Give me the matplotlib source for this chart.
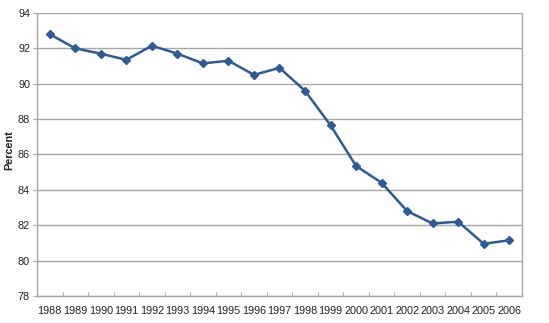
import matplotlib

matplotlib.use("Agg")
import matplotlib.pyplot as plt
import numpy as np

years = [str(y) for y in range(1988, 2007)]
percent = [92.8, 92.0, 91.7, 91.35, 92.15, 91.7, 91.15, 91.3, 90.5, 90.9,
           89.6, 87.65, 85.35, 84.4, 82.8, 82.1, 82.2, 80.95, 81.15]

LINE = "#2c5b98"
GRID = "#a6a6a6"

plt.rcParams["font.family"] = ["Liberation Sans", "DejaVu Sans"]

fig = plt.figure(figsize=(5.49, 3.23), dpi=100)
ax = fig.add_axes([0.0674, 0.0836, 0.8834, 0.8762])

xs = np.arange(len(years))
ax.plot(xs, percent, color=LINE, lw=1.8, marker="D", ms=4, mec=LINE, mfc=LINE,
        zorder=3, clip_on=False)

ax.set_xlim(-0.5, len(years) - 0.5)
ax.set_ylim(78, 94)
ax.set_yticks(np.arange(78, 95, 2))
ax.set_xticks(xs)
ax.set_xticklabels(years, fontsize=7.8, color="#222222")
ax.set_xticks(np.arange(0.5, len(years) - 1, 1), minor=True)
ax.tick_params(axis="x", which="major", length=0, pad=7)
ax.tick_params(axis="x", which="minor", direction="in", length=3, color=GRID)
ax.tick_params(axis="y", labelsize=7.8, labelcolor="#222222", length=3,
               color=GRID, pad=2)

ax.grid(axis="y", color=GRID, lw=1.0)
ax.set_axisbelow(True)
for side in ["left", "bottom", "right"]:
    ax.spines[side].set_color(GRID)
    ax.spines[side].set_linewidth(1.0)
ax.spines["top"].set_visible(False)

fig.text(0.016, 0.535, "Percent", rotation=90, ha="center", va="center",
         fontsize=7.8, fontweight="bold", color="#222222")

fig.savefig("out.png", dpi=100)
